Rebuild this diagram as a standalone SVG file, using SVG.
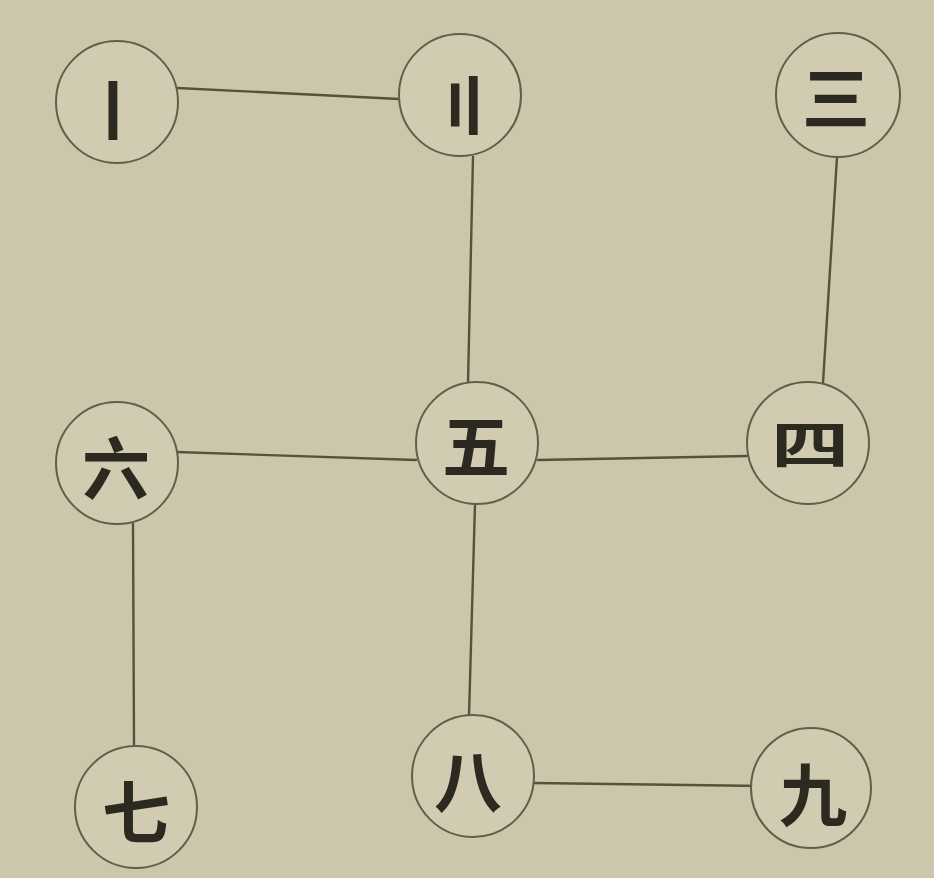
<svg xmlns="http://www.w3.org/2000/svg" width="934" height="878" viewBox="0 0 934 878">
<style>
.bg{fill:#ccc7ab}
.node circle{fill:#d0cbb1;stroke:#625e4e;stroke-width:2}
.node text{font-family:"Noto Sans CJK SC","Noto Sans CJK TC",sans-serif;font-size:68px;font-weight:700;fill:#2b2920;text-anchor:middle;dominant-baseline:central}
.edges line{stroke:#55523f;stroke-width:2.4;stroke-linecap:round}
</style>
<rect class="bg" x="0" y="0" width="934" height="878"/>
<g class="edges" id="connectors">
<line x1="177" y1="88" x2="399" y2="99"/>
<line x1="473" y1="157" x2="468" y2="383"/>
<line x1="837" y1="157" x2="823" y2="383"/>
<line x1="177" y1="452" x2="416" y2="460"/>
<line x1="538" y1="460" x2="747" y2="456"/>
<line x1="133" y1="524" x2="134" y2="746"/>
<line x1="475" y1="504" x2="469" y2="716"/>
<line x1="534" y1="783" x2="766" y2="786"/>
</g>
<g class="node" id="n1"><circle cx="117" cy="102" r="61"/><text x="113" y="106">〡</text></g>
<g class="node" id="n2"><circle cx="460" cy="95" r="61"/><text x="464" y="102">〢</text></g>
<g class="node" id="n3"><circle cx="838" cy="95" r="62"/><text x="836" y="94" font-size="76">三</text></g>
<g class="node" id="n4"><circle cx="808" cy="443" r="61"/><text x="0" y="0" transform="translate(810 442) scale(1.15 0.75)">四</text></g>
<g class="node" id="n5"><circle cx="477" cy="443" r="61"/><text x="476" y="442">五</text></g>
<g class="node" id="n6"><circle cx="117" cy="463" r="61"/><text x="116" y="464">六</text></g>
<g class="node" id="n7"><circle cx="136" cy="807" r="61"/><text x="136" y="808">七</text></g>
<g class="node" id="n8"><circle cx="473" cy="776" r="61"/><text x="468" y="777">八</text></g>
<g class="node" id="n9"><circle cx="811" cy="788" r="60"/><text x="813" y="791">九</text></g>
</svg>
